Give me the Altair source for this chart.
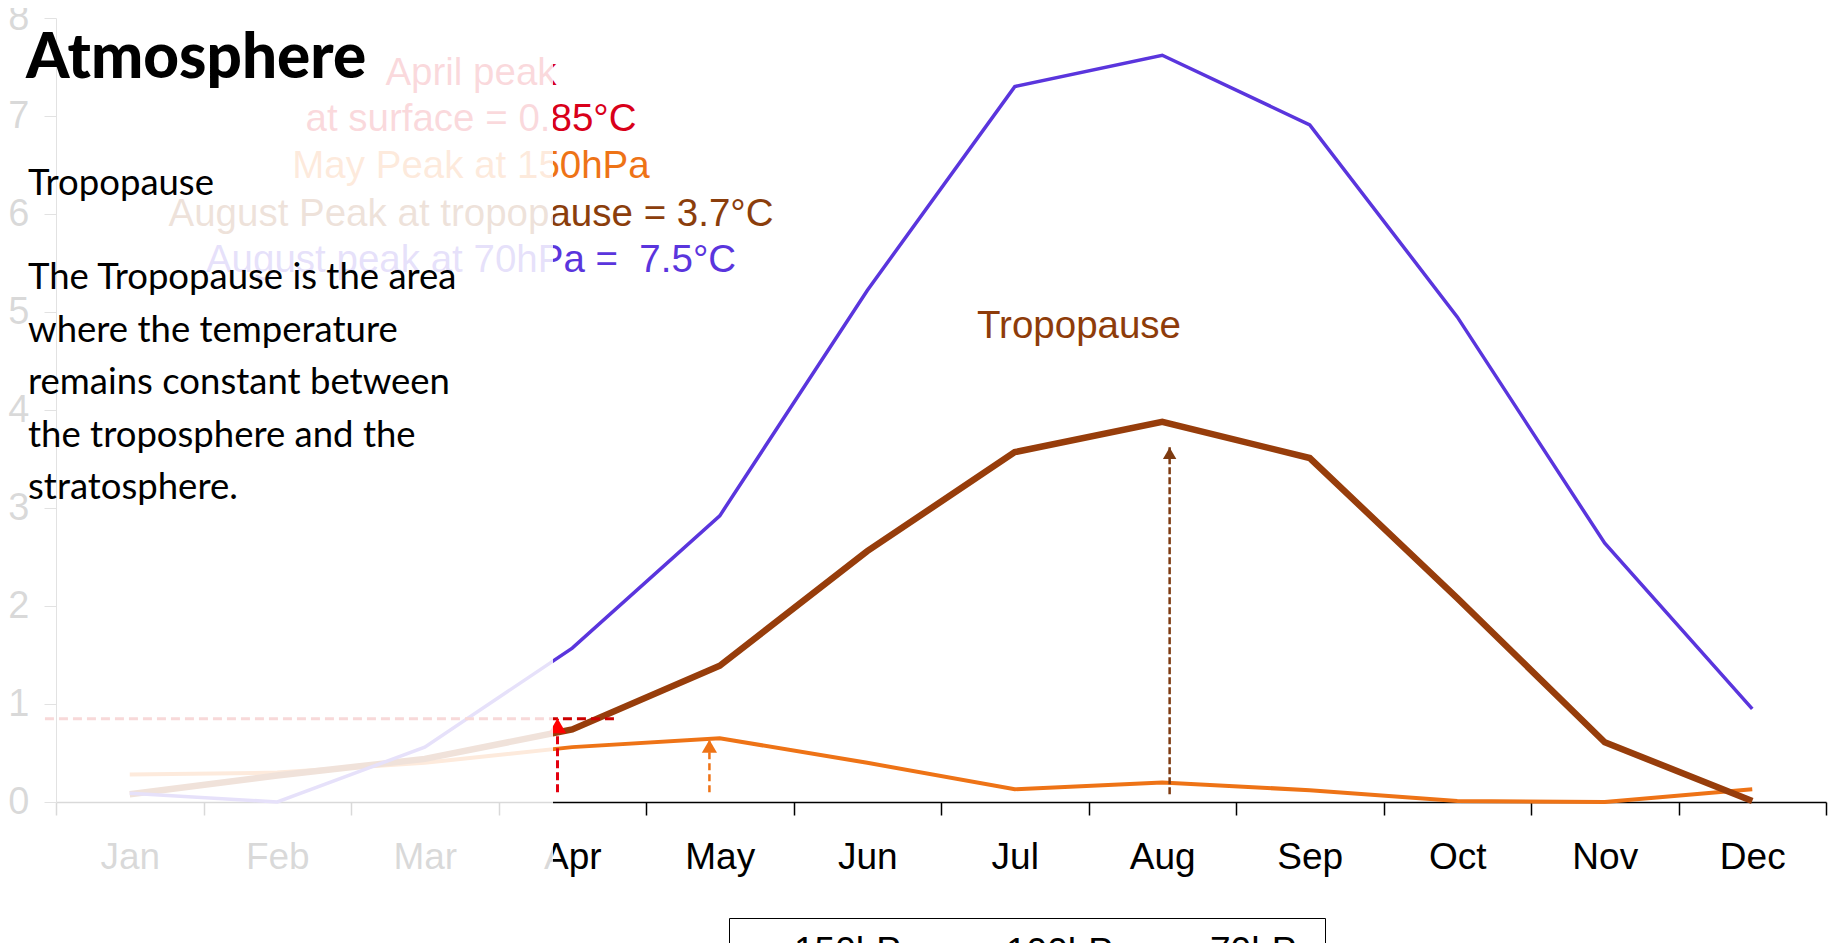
import altair as alt
import pandas as pd

# ---------------- data ----------------
months = ["Jan", "Feb", "Mar", "Apr", "May", "Jun", "Jul", "Aug", "Sep", "Oct", "Nov", "Dec"]
series_names = ["150hPa", "100hPa", "70hPa"]
temp_150 = [0.28, 0.30, 0.40, 0.56, 0.65, 0.40, 0.13, 0.20, 0.12, 0.01, 0.00, 0.13]
temp_100 = [0.08, 0.27, 0.44, 0.74, 1.39, 2.56, 3.57, 3.88, 3.51, 2.08, 0.61, 0.01]
temp_70 = [0.09, 0.00, 0.56, 1.57, 2.92, 5.22, 7.30, 7.62, 6.91, 4.95, 2.64, 0.95]
y_ticks = [0, 1, 2, 3, 4, 5, 6, 7, 8]

series_colors = ["#ee7316", "#973d0b", "#5a35dd"]
series_widths = [4, 6.5, 3.5]

# peak arrows (position in month units, base and tip in degC)
arrow_names = ["April surface peak", "May 150hPa peak", "August tropopause peak"]
arrow_pos = [3.40, 4.43, 7.55]
arrow_base = [0.10, 0.10, 0.08]
arrow_tip = [0.85, 0.64, 3.63]
arrow_colors = ["#e3000f", "#ee7316", "#7d3a10"]
arrow_head_colors = ["#ff0000", "#ee7316", "#7d3a10"]
arrow_dash = [[8, 4], [7, 4], [7, 3]]
arrow_width = [3, 2.5, 2.5]
arrow_head_size = [300, 230, 180]

surface_peak = [0.85]
surface_from = [-0.075]
surface_to = [3.79]

annotation_lines = [
    "April peak",
    "at surface = 0.85°C",
    "May Peak at 150hPa",
    "August Peak at tropopause = 3.7°C",
    "August peak at 70hPa =\u00a0 7.5°C",
]
annotation_colors = ["#d9001a", "#d9001a", "#ee7316", "#8b3e0c", "#5a35dd"]

title_lines = ["The Earth's", "Atmosphere"]
heading = "Tropopause"
paragraph = [
    "The Tropopause is the area",
    "where the temperature",
    "remains constant between",
    "the troposphere and the",
    "stratosphere.",
]

# ---------------- tables ----------------
rows = []
for name, vals in zip(series_names, [temp_150, temp_100, temp_70]):
    for i, v in enumerate(vals):
        rows.append({"series": name, "month": months[i], "pos": i + 0.5, "temp": v})
lines_df = pd.DataFrame(rows)

arrows_df = pd.DataFrame({"arrow": arrow_names, "pos": arrow_pos, "temp": arrow_base, "tip": arrow_tip})
surface_df = pd.DataFrame({"pos": surface_from, "pos2": surface_to, "temp": surface_peak})
one = pd.DataFrame({"a": [0]})

FONT = "Liberation Sans"
month_expr = "[" + ",".join(f"'{m}'" for m in months) + "]"

x_scale = alt.Scale(domain=[0, 12], nice=False, zero=False)
y_scale = alt.Scale(domain=[0, 8], nice=False)

x_axis = alt.Axis(
    values=[i / 2 for i in range(25)],
    labelExpr=f"datum.value % 1 == 0 ? '' : {month_expr}[floor(datum.value)]",
    tickOpacity={"condition": {"test": "datum.value % 1 == 0", "value": 1}, "value": 0},
    tickSize=13, tickWidth=1.5, tickColor="black",
    domainColor="black", domainWidth=1.5,
    labelFont=FONT, labelFontSize=37, labelColor="black",
    labelBaseline="alphabetic", labelPadding=53,
    labelOverlap=False, labelFlush=False, grid=False,
)
y_axis = alt.Axis(
    values=y_ticks, format="d", tickSize=12, tickColor="#404040", domainColor="#404040",
    labelFont=FONT, labelFontSize=38, labelColor="black", labelPadding=15,
    labelOverlap=False, grid=False,
)

legend = alt.Legend(
    title=None, orient="none", legendX=673, legendY=900, direction="horizontal",
    strokeColor="black", fillColor="white", padding=8,
    symbolType="stroke", symbolSize=2200, labelFont=FONT, labelFontSize=37,
    labelColor="black", labelOffset=6, columnPadding=14, labelLimit=400,
)

lines = alt.Chart(lines_df).mark_line().encode(
    x=alt.X("pos:Q", scale=x_scale, axis=x_axis, title=None),
    y=alt.Y("temp:Q", scale=y_scale, axis=y_axis, title=None),
    color=alt.Color("series:N", scale=alt.Scale(domain=series_names, range=series_colors), legend=legend),
    strokeWidth=alt.StrokeWidth("series:N", scale=alt.Scale(type="ordinal", domain=series_names, range=series_widths), legend=legend),
)

surface_rule = alt.Chart(surface_df).mark_rule(color="#cc0000", strokeWidth=3, strokeDash=[9, 5]).encode(
    x=alt.X("pos:Q", title=None), x2="pos2:Q", y=alt.Y("temp:Q", title=None)
)

arrow_layers = []
for i, name in enumerate(arrow_names):
    sub = arrows_df[arrows_df["arrow"] == name]
    arrow_layers.append(
        alt.Chart(sub).mark_rule(color=arrow_colors[i], strokeWidth=arrow_width[i], strokeDash=arrow_dash[i]).encode(
            x=alt.X("pos:Q", title=None), y=alt.Y("temp:Q", title=None), y2="tip:Q"
        )
    )
    arrow_layers.append(
        alt.Chart(sub).mark_point(shape="triangle-up", filled=True, size=arrow_head_size[i], opacity=1,
                                  color=arrow_head_colors[i], yOffset=7).encode(
            x=alt.X("pos:Q", title=None), y=alt.Y("tip:Q", title=None)
        )
    )

ann_y = [67, 113, 160, 208, 254]
annotation_layers = []
for txt, col, yy in zip(annotation_lines, annotation_colors, ann_y):
    annotation_layers.append(
        alt.Chart(one).mark_text(font=FONT, fontSize=38.5, color=col, align="center", baseline="alphabetic").encode(
            x=alt.value(415), y=alt.value(yy), text=alt.value(txt)
        )
    )
annotation_layers.append(
    alt.Chart(one).mark_text(font=FONT, fontSize=38.5, color="#8e3c0a", align="center", baseline="alphabetic").encode(
        x=alt.value(1023), y=alt.value(320), text=alt.value("Tropopause")
    )
)

overlay = alt.Chart(one).mark_rect(color="white", opacity=0.85).encode(
    x=alt.value(-56), x2=alt.value(497), y=alt.value(-18), y2=alt.value(930)
)

text_layers = []
for txt, yy in zip(title_lines, [-15, 60]):
    text_layers.append(
        alt.Chart(one).mark_text(font="Lato", fontSize=62, fontWeight=900, color="black",
                                 align="left", baseline="alphabetic").encode(
            x=alt.value(-30), y=alt.value(yy), text=alt.value(txt)
        )
    )
text_layers.append(
    alt.Chart(one).mark_text(font="Lato", fontSize=36.5, color="black", align="left", baseline="alphabetic").encode(
        x=alt.value(-28), y=alt.value(177), text=alt.value(heading)
    )
)
for k, txt in enumerate(paragraph):
    text_layers.append(
        alt.Chart(one).mark_text(font="Lato", fontSize=36.5, color="black", align="left", baseline="alphabetic").encode(
            x=alt.value(-28), y=alt.value(271 + k * 52.5), text=alt.value(txt)
        )
    )

chart = alt.layer(
    lines, surface_rule, *arrow_layers, *annotation_layers, overlay, *text_layers
).properties(
    width=1770, height=784,
    autosize=alt.AutoSizeParams(type="none"),
    padding={"left": 48, "top": 10, "right": 5, "bottom": 141},
    background="white",
).configure_view(stroke=None)

chart.save("out.html", embed_options={"renderer": "svg", "actions": False})
